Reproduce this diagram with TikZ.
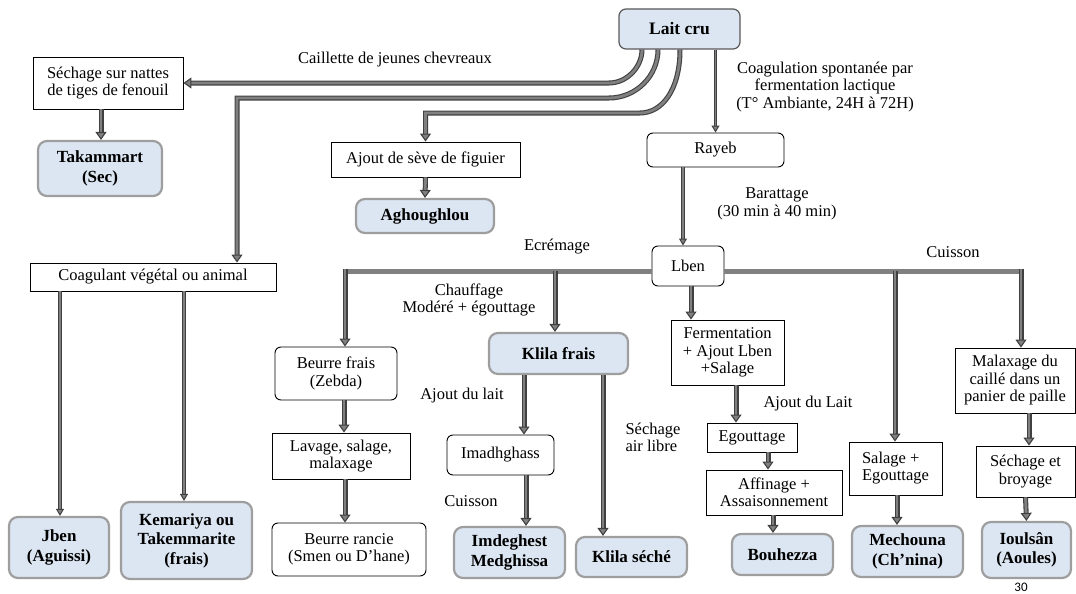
\documentclass[tikz,border=0pt]{standalone}
\usepackage{fontspec}
\setmainfont{Liberation Serif}
\setsansfont{Carlito}
\usetikzlibrary{arrows.meta}
\definecolor{pbl}{HTML}{DCE6F2}
\begin{document}
\begin{tikzpicture}[x=1pt,y=-1pt,
  font=\fontsize{16.5}{17.5}\selectfont,
  box/.style={draw=black, line width=0.9pt, fill=white, inner sep=0pt, align=center},
  rbox/.style={box, rounded corners=6pt},
  prod/.style={draw=black!38, line width=2.2pt, fill=pbl, rounded corners=9pt, inner sep=0pt, align=center, font=\fontsize{17}{19.5}\selectfont\bfseries},
  laitbox/.style={draw=black!65, line width=1.2pt, fill=pbl, rounded corners=7pt, inner sep=0pt, font=\fontsize{17.5}{19}\selectfont\bfseries},
  lbl/.style={align=center, inner sep=0pt},
  arr/.style={draw=black!75, double=black!50, double distance=2.8pt, line width=1.1pt, -{Triangle[width=11pt,length=8pt,fill=black!50]}},
  arrthin/.style={draw=black!75, double=black!50, double distance=1.8pt, line width=1pt, -{Triangle[width=8pt,length=7pt,fill=black!50]}},
  bar/.style={draw=black!50, line width=5pt}
]
\useasboundingbox (0,0) rectangle (1076,594);

% nodes
\node[laitbox, minimum width=121pt, minimum height=40pt] (lait) at (679.5,29) {Lait cru};
\node[box, minimum width=150pt, minimum height=52pt] (sechage) at (108,83) {Séchage sur nattes\\de tiges de fenouil};
\node[prod, minimum width=124pt, minimum height=55pt] (takammart) at (100,168.5) {Takammart\\(Sec)};
\node[box, minimum width=246pt, minimum height=28pt] (coag) at (153,277) {Coagulant végétal ou animal};
\node[box, minimum width=189pt, minimum height=35pt] (ajout) at (425.5,159.5) {Ajout de sève de figuier};
\node[prod, minimum width=138pt, minimum height=34pt] (agh) at (425,216) {Aghoughlou};
\node[rbox, minimum width=137pt, minimum height=34pt] (rayeb) at (715.5,150) {Rayeb};
\node[rbox, minimum width=72pt, minimum height=40pt] (lben) at (688,266) {Lben};
\node[rbox, minimum width=122pt, minimum height=53pt] (beurre) at (336,373.5) {Beurre frais\\(Zebda)};
\node[box, minimum width=138pt, minimum height=46pt] (lavage) at (341,456) {Lavage, salage,\\malaxage};
\node[rbox, minimum width=154pt, minimum height=53pt] (rancie) at (349,549.5) {Beurre rancie\\(Smen ou D’hane)};
\node[prod, minimum width=139pt, minimum height=41pt] (klila) at (558.5,353.5) {Klila frais};
\node[rbox, minimum width=107pt, minimum height=40pt] (imadh) at (500.5,455) {Imadhghass};
\node[prod, minimum width=111pt, minimum height=51pt] (imdeg) at (509.5,552.5) {Imdeghest\\Medghissa};
\node[prod, minimum width=111pt, minimum height=40pt] (klilas) at (631.5,557) {Klila séché};
\node[box, minimum width=113pt, minimum height=65pt] (ferm) at (727.5,352.5) {Fermentation\\+ Ajout Lben\\+Salage};
\node[box, minimum width=90pt, minimum height=29pt] (egout) at (752,437.5) {Egouttage};
\node[box, minimum width=136pt, minimum height=45pt] (affin) at (774,492.5) {Affinage +\\Assaisonnement};
\node[prod, minimum width=101pt, minimum height=41pt] (bouh) at (782.5,554.5) {Bouhezza};
\node[box, minimum width=93pt, minimum height=53pt] (salage) at (895.5,468.5) {\begin{tabular}{@{}l@{}}Salage +\\Egouttage\end{tabular}};
\node[prod, minimum width=111pt, minimum height=51pt] (mech) at (907.5,551.5) {Mechouna\\(Ch’nina)};
\node[box, minimum width=120pt, minimum height=65pt] (malax) at (1015,380.5) {Malaxage du\\caillé dans un\\panier de paille};
\node[box, minimum width=99pt, minimum height=51pt] (sech2) at (1025.5,471.5) {Séchage et\\broyage};
\node[prod, minimum width=89pt, minimum height=56pt] (ioul) at (1026.5,550) {Ioulsân\\(Aoules)};
\node[prod, minimum width=100pt, minimum height=61pt] (jben) at (59,547.5) {Jben\\(Aguissi)};
\node[prod, minimum width=131pt, minimum height=77pt] (kem) at (186.5,540.5) {Kemariya ou\\Takemmarite\\(frais)};

% labels
\node[lbl] (l1) at (395,60) {Caillette de jeunes chevreaux};
\node[lbl] (l2) at (825,87) {Coagulation spontanée par\\fermentation lactique\\(T° Ambiante, 24H à 72H)};
\node[lbl] (l3) at (777,204) {Barattage\\(30 min à 40 min)};
\node[lbl] (l4) at (557,247) {Ecrémage};
\node[lbl] (l5) at (953,252) {Cuisson};
\node[lbl] (l6) at (469,300) {Chauffage\\Modéré + égouttage};
\node[lbl] (l7) at (462,396) {Ajout du lait};
\node[lbl] (l8) at (471,501) {Cuisson};
\node[lbl, align=left] (l9) at (653,437.5) {Séchage\\air libre};
\node[lbl] (l10) at (808,404) {Ajout du Lait};
\node[inner sep=0pt, font=\sffamily\fontsize{13}{14}\selectfont] (pg) at (1021,587) {30};

% bar coordinates
\coordinate (bl) at (345,271);
\coordinate (bk) at (555,271);
\coordinate (bs) at (895,271);
\coordinate (br) at (1021,271);

% connectors from Lait cru
\draw[arr] ([xshift=-37.5pt]lait.south) .. controls (642,67) and (627,83) .. (609,83) -- (sechage.east);
\draw[arr] ([xshift=-21.5pt]lait.south) .. controls (658,76) and (636,98) .. (609,98) -| ([xshift=84pt]coag.north);
\draw[arr] ([xshift=0.5pt]lait.south) .. controls (680,90) and (662,113) .. (640,113) -| (ajout.north);
\draw[arrthin] (lait.south -| rayeb.north) -- (rayeb.north);
\draw[arr] ([xshift=-7pt]sechage.south) -- ([xshift=1pt]takammart.north);
\draw[arr] (ajout.south) -- (agh.north);
\draw[arrthin] ([xshift=-32.5pt]rayeb.south) -- ([xshift=-5pt]lben.north);
\draw[arrthin] ([xshift=-93pt]coag.south) -- ([xshift=1pt]jben.north);
\draw[arrthin] ([xshift=31pt]coag.south) -- ([xshift=-2.5pt]kem.north);

% Lben bar
\draw[bar] ([yshift=-5pt]lben.west) -- ([xshift=-2pt]bl);
\draw[bar] ([yshift=-5pt]lben.east) -- ([xshift=2pt]br);
\draw[arr] ([yshift=2pt]bl) -- (bl |- beurre.north);
\draw[arr] (bk) -- (bk |- klila.north);
\draw[arr] (bs) -- (bs |- salage.north);
\draw[arr] ([yshift=2pt]br) -- (br |- malax.north);
\draw[arr] ([xshift=3pt]lben.south) -- ([xshift=-36.5pt]ferm.north);

% chains
\draw[arr] ([xshift=8pt]beurre.south) -- ([xshift=3pt]lavage.north);
\draw[arr] ([xshift=4pt]lavage.south) -- ([xshift=-4pt]rancie.north);
\draw[arr] ([xshift=-34.5pt]klila.south) -- ([xshift=23.5pt]imadh.north);
\draw[arr] ([xshift=25.5pt]imadh.south) -- ([xshift=16.5pt]imdeg.north);
\draw[arr] ([xshift=44.5pt]klila.south) -- ([xshift=-28.5pt]klilas.north);
\draw[arr] ([xshift=8.5pt]ferm.south) -- ([xshift=-16pt]egout.north);
\draw[arr] ([xshift=16pt]egout.south) -- ([xshift=-6pt]affin.north);
\draw[arr] ([xshift=-1pt]affin.south) -- ([xshift=-9.5pt]bouh.north);
\draw[arr] ([xshift=1.5pt]salage.south) -- ([xshift=-10.5pt]mech.north);
\draw[arr] ([xshift=14pt]malax.south) -- ([xshift=3.5pt]sech2.north);
\draw[arr] (sech2.south) -- (ioul.north);
\end{tikzpicture}
\end{document}
